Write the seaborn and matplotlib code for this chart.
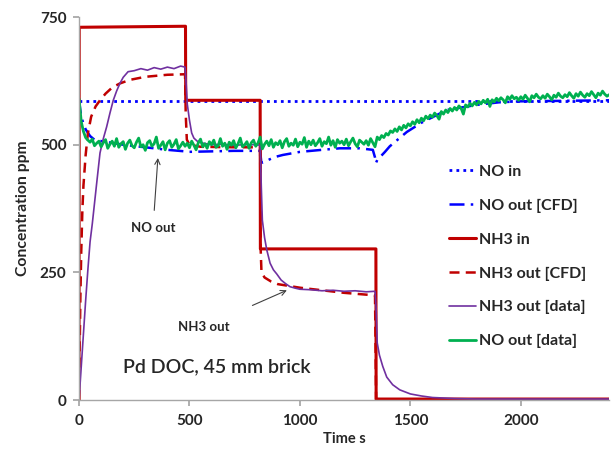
import matplotlib
matplotlib.use("Agg")
import matplotlib.pyplot as plt
import seaborn as sns

sns.set_theme(style="white")
plt.rcParams["font.family"] = ["Lato", "DejaVu Sans"]

# ----------------------------------------------------------------------
# Data
# ----------------------------------------------------------------------
no_in_t = [0, 2400]
no_in = [586, 586]

nh3_in_t = [0, 1, 482, 483, 820, 821, 1344, 1345, 2400]
nh3_in = [0, 730, 732, 587, 587, 296, 296, 2, 2]

nh3_cfd_t = [0, 3, 6, 10, 15, 20, 30, 40, 55, 75, 95, 120, 150, 185, 230,
             300, 400, 480, 483, 488, 500, 550, 700, 820, 822, 826, 840, 870,
             900, 1000, 1100, 1200, 1340, 1345, 2400]
nh3_cfd = [0, 100, 200, 290, 370, 420, 480, 522, 555, 575, 587, 600, 612,
           620, 627, 633, 637, 638, 560, 510, 500, 496, 495, 495, 300, 250,
           240, 232, 227, 220, 215, 210, 205, 0, 0]

no_cfd_t = [0, 5, 10, 18, 30, 50, 72, 131, 200, 300, 400, 480, 490, 600,
            700, 820, 825, 830, 887, 923, 1000, 1100, 1181, 1271, 1330, 1340,
            1344, 1350, 1385, 1407, 1484, 1550, 1665, 1800, 1900, 2000, 2200,
            2400]
no_cfd = [590, 570, 555, 544, 530, 517, 509, 505, 500, 495, 490, 487, 486,
          487, 488, 488, 466, 465, 476, 480, 486, 490, 493, 493, 490, 475,
          464, 470, 486, 497, 525, 543, 568, 578, 583, 585, 586, 587]

nh3_data_t = [0, 10, 20, 30, 40, 50, 60, 70, 80, 95, 110, 125, 140, 155, 170,
              185, 200, 222, 250, 280, 310, 340, 370, 400, 430, 460, 480, 485,
              490, 500, 510, 520, 535, 550, 575, 600, 650, 700, 750, 800, 820,
              825, 830, 840, 850, 865, 880, 895, 915, 935, 955, 980, 1000,
              1050, 1100, 1150, 1200, 1250, 1300, 1340, 1345, 1350, 1360,
              1375, 1393, 1420, 1452, 1500, 1550, 1600, 1700, 1800, 2000,
              2200, 2400]
nh3_data = [0, 65, 130, 195, 255, 310, 345, 385, 425, 484, 512, 535, 562,
            587, 605, 620, 632, 643, 645, 649, 646, 651, 648, 652, 649, 654,
            652, 620, 580, 548, 523, 513, 507, 504, 502, 500, 501, 499, 500,
            500, 499, 420, 352, 318, 294, 268, 255, 247, 235, 228, 222, 219,
            217, 216, 214, 215, 213, 214, 212, 213, 180, 112, 88, 66, 45, 30,
            20, 12, 8, 5, 3, 2, 2, 2, 2]

# NO out [data]: one reading every 10 s from 0 to 2400 s
no_data_t = list(range(0, 2410, 10))
no_data = [
    590, 545, 526, 514, 509, 505, 511, 498, 503, 507,
    496, 504, 510, 493, 501, 507, 497, 512, 495, 502,
    506, 491, 503, 509, 498, 494, 505, 513, 496, 500,
    489, 504, 508, 497, 502, 515, 493, 499, 506, 490,
    503, 508, 495, 501, 510, 492, 498, 505, 497, 503,
    494, 507, 499, 490, 504, 511, 496, 502, 493, 506,
    500, 509, 495, 498, 512, 497, 503, 491, 505, 499,
    508, 494, 502, 513, 496, 500, 506, 493, 504, 509,
    497, 503, 515, 492, 501, 507, 498, 510, 495, 504,
    500, 508, 494, 506, 512, 497, 503, 499, 511, 496,
    505, 501, 514, 495, 507, 500, 509, 498, 504, 512,
    497, 506, 502, 515, 499, 508, 495, 510, 503, 507,
    500, 511, 498, 506, 513, 502, 496, 509, 505, 501,
    508, 499, 512, 504, 496, 515, 510, 518, 514, 522,
    519, 527, 524, 531, 526, 535, 529, 538, 533, 541,
    537, 545, 540, 549, 543, 552, 547, 556, 551, 558,
    554, 562, 557, 550, 565, 560, 568, 563, 571, 566,
    573, 568, 576, 571, 560, 578, 574, 581, 576, 583,
    578, 585, 580, 587, 582, 589, 575, 588, 584, 591,
    586, 592, 588, 582, 594, 589, 596, 590, 593, 587,
    594, 589, 597, 591, 584, 596, 592, 599, 593, 590,
    596, 591, 599, 594, 588, 597, 593, 601, 595, 592,
    598, 594, 602, 596, 591, 600, 595, 603, 597, 593,
    600, 596, 604, 598, 592, 601, 597, 605, 599, 595,
    598,
]

X_TICKS = [0, 500, 1000, 1500, 2000]
Y_TICKS = [0, 250, 500, 750]

RED = "#C00000"
BLUE = "#0000FF"
PURPLE = "#7030A0"
GREEN = "#00B050"

# ----------------------------------------------------------------------
fig = plt.figure(figsize=(6.15, 4.49), dpi=100)
ax = fig.add_axes([0.1285, 0.109, 0.862, 0.853])

sns.lineplot(x=no_in_t, y=no_in, ax=ax, color=BLUE, lw=2,
             linestyle=(0, (1, 1.5)), label="NO in")
sns.lineplot(x=no_cfd_t, y=no_cfd, ax=ax, color=BLUE, lw=1.8,
             linestyle=(0, (6, 2.5, 1, 2.5)), label="NO out [CFD]",
             estimator=None, sort=False)
sns.lineplot(x=nh3_in_t, y=nh3_in, ax=ax, color=RED, lw=2.2,
             label="NH3 in", estimator=None, sort=False)
sns.lineplot(x=nh3_cfd_t, y=nh3_cfd, ax=ax, color=RED, lw=1.8,
             linestyle=(0, (4, 2.5)), label="NH3 out [CFD]",
             estimator=None, sort=False)
sns.lineplot(x=nh3_data_t, y=nh3_data, ax=ax, color=PURPLE, lw=1.2,
             label="NH3 out [data]", estimator=None, sort=False)
sns.lineplot(x=no_data_t, y=no_data, ax=ax, color=GREEN, lw=2.0,
             label="NO out [data]", estimator=None, sort=False)

ax.set_xlim(0, 2400)
ax.set_ylim(0, 750)
ax.set_xticks(X_TICKS)
ax.set_yticks(Y_TICKS)
ax.set_xlabel("Time s", fontsize=10.5, weight="bold", labelpad=3)
ax.set_ylabel("Concentration ppm", fontsize=11.3, weight="bold", labelpad=7)
for lab in ax.get_xticklabels() + ax.get_yticklabels():
    lab.set_fontweight("bold")
ax.tick_params(axis="both", labelsize=11, direction="out", length=4,
               color="#A6A6A6", pad=5, left=True, bottom=True)
ax.tick_params(axis="x", pad=6)

sns.despine(ax=ax)
for side in ["left", "bottom"]:
    ax.spines[side].set_color("#A6A6A6")
    ax.spines[side].set_linewidth(1)

ax.annotate("NO out", xy=(357, 474), xytext=(335, 337), fontsize=9.5,
            weight="bold", ha="center", va="center",
            arrowprops=dict(arrowstyle="->", color="#404040", lw=0.8,
                            shrinkA=6, shrinkB=0))
ax.annotate("NH3 out", xy=(941, 215), xytext=(563, 143), fontsize=9.5,
            weight="bold", ha="center", va="center",
            arrowprops=dict(arrowstyle="->", color="#404040", lw=0.8,
                            shrinkA=22, shrinkB=0))
ax.text(624, 65, "Pd DOC, 45 mm brick", fontsize=14, ha="center",
        va="center", weight="semibold")

leg = ax.legend(loc="upper left", bbox_to_anchor=(0.683, 0.635),
                frameon=False, handlelength=1.7, handletextpad=0.15,
                labelspacing=1.23, borderpad=0,
                prop={"size": 11.5, "weight": "bold"})

fig.savefig("out.png", dpi=100)
